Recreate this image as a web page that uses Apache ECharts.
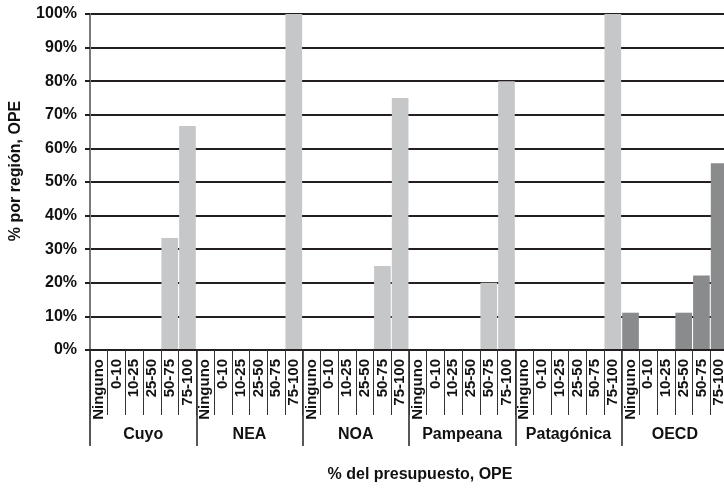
<!DOCTYPE html>
<html>
<head>
<meta charset="utf-8">
<script src="https://cdn.jsdelivr.net/npm/echarts@6/dist/echarts.min.js"></script>
<style>
  html, body { margin: 0; padding: 0; background: #fff; overflow: hidden; width: 724px; height: 488px; }
  #chart { width: 730px; height: 488px; }
</style>
</head>
<body>
<div id="chart"></div>
<script>
// Budget-share brackets and regions
const ranges = ['Ninguno', '0-10', '10-25', '25-50', '50-75', '75-100'];
const regions = ['Cuyo', 'NEA', 'NOA', 'Pampeana', 'Patagónica', 'OECD'];

// Percentage of each region's units falling in each bracket
const cuyo       = [0, 0, 0, 0, 33.3, 66.7];
const nea        = [0, 0, 0, 0, 0, 100];
const noa        = [0, 0, 0, 0, 25, 75];
const pampeana   = [0, 0, 0, 0, 20, 80];
const patagonica = [0, 0, 0, 0, 0, 100];
const oecd       = [11.1, 0, 0, 11.1, 22.2, 55.6];

const yTicks = [0, 10, 20, 30, 40, 50, 60, 70, 80, 90, 100];

const regionValues = [cuyo, nea, noa, pampeana, patagonica, oecd];
const lightGray = '#c6c7c9';
const darkGray = '#8a8b8d';

const categories = [];
const barData = [];
regionValues.forEach((vals, r) => {
  vals.forEach((v, i) => {
    categories.push(ranges[i]);
    barData.push({
      value: v,
      itemStyle: { color: regions[r] === 'OECD' ? darkGray : lightGray }
    });
  });
});

const font = '"Liberation Sans", Arial, Helvetica, sans-serif';
const ink = '#231f20';

const chart = echarts.init(document.getElementById('chart'), null, { renderer: 'canvas' });
chart.setOption({
  animation: false,
  backgroundColor: '#fff',
  grid: { left: 90, right: 2, top: 14, bottom: 136, containLabel: false },
  xAxis: [
    {
      type: 'category',
      data: categories,
      position: 'bottom',
      boundaryGap: true,
      axisLine: { show: true, lineStyle: { color: ink, width: 2 } },
      axisTick: { show: true, interval: 0, length: 65, lineStyle: { color: '#333', width: 1 } },
      axisLabel: {
        interval: 0, rotate: 90, margin: 9,
        fontFamily: font, fontWeight: 'bold', fontSize: 15, color: '#111'
      },
      splitLine: { show: false },
      z: 3
    },
    {
      type: 'category',
      data: regions,
      position: 'bottom',
      boundaryGap: true,
      axisLine: { show: false },
      axisTick: { show: true, interval: 0, length: 96, lineStyle: { color: ink, width: 1.5 } },
      axisLabel: {
        interval: 0, margin: 77,
        fontFamily: font, fontWeight: 'bold', fontSize: 16, color: '#111'
      },
      name: '% del presupuesto, OPE',
      nameLocation: 'middle',
      nameGap: 117,
      nameTextStyle: {
        fontFamily: font, fontWeight: 'bold', fontSize: 16, color: '#111',
        padding: [0, 0, 0, 22]
      },
      splitLine: { show: false }
    }
  ],
  yAxis: {
    type: 'value',
    min: 0, max: 100, interval: 10,
    name: '% por región, OPE',
    nameLocation: 'middle',
    nameGap: 66,
    nameRotate: 90,
    nameTextStyle: {
      fontFamily: font, fontWeight: 'bold', fontSize: 16, color: '#111',
      padding: [0, 0, 0, 22]
    },
    axisLine: { show: true, lineStyle: { color: '#7a7a7a', width: 2 } },
    axisTick: { show: true, length: 5, lineStyle: { color: ink, width: 2 } },
    axisLabel: {
      formatter: v => (yTicks.includes(v) ? v + '%' : ''),
      margin: 13,
      fontFamily: font, fontWeight: 'bold', fontSize: 16, color: '#111'
    },
    splitLine: { show: true, lineStyle: { color: ink, width: 2 } }
  },
  series: [{
    type: 'bar',
    xAxisIndex: 0,
    data: barData,
    barCategoryGap: '6%',
    z: 2
  }]
});
</script>
</body>
</html>
